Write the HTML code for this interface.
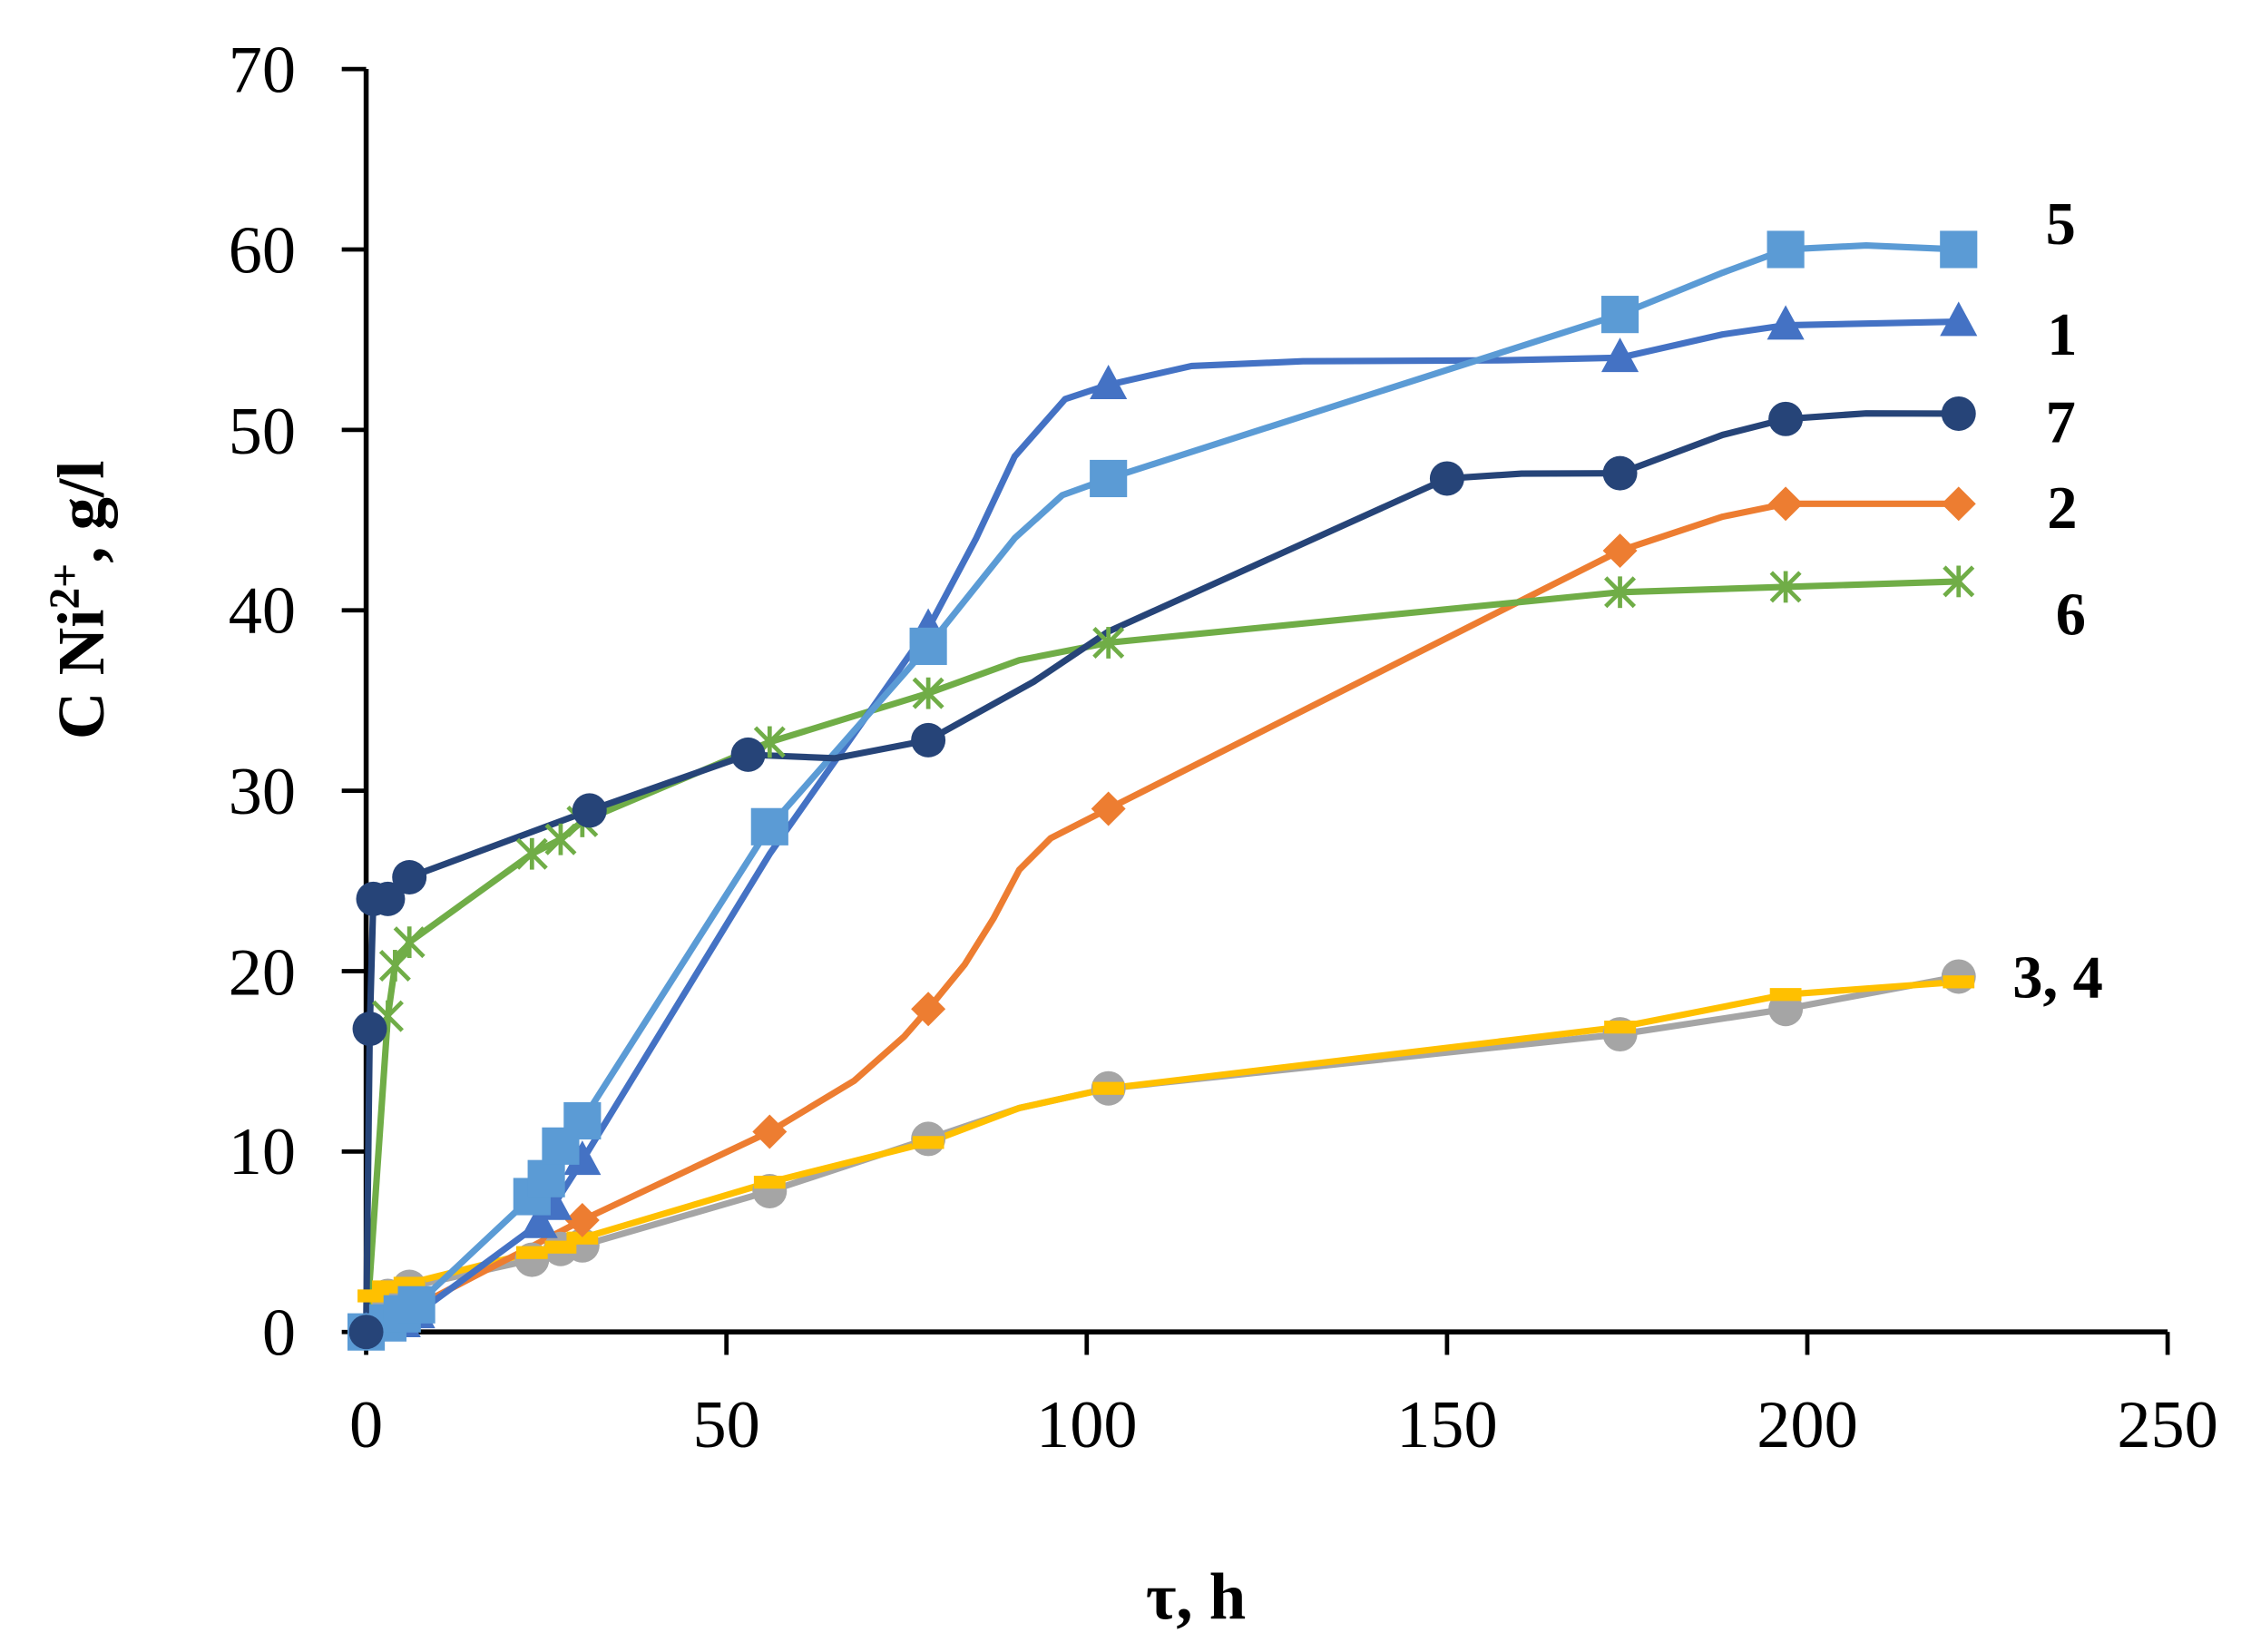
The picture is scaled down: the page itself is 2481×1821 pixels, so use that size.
<!DOCTYPE html>
<html><head><meta charset="utf-8"><style>html,body{margin:0;padding:0;background:#fff}svg{display:block}</style></head>
<body>
<svg width="2481" height="1821" viewBox="0 0 1568 1151" xmlns="http://www.w3.org/2000/svg" xmlns:xlink="http://www.w3.org/1999/xlink" font-family="'Liberation Serif', serif">
<defs>
<circle id="cg" r="12" fill="#A5A5A5"/>
<circle id="cn" r="12" fill="#264478"/>
<rect id="dy" x="-11" y="-4.5" width="22" height="9" fill="#FFC000"/>
<polygon id="dm" points="0,-12 12,0 0,12 -12,0" fill="#ED7D31"/>
<g id="st" stroke="#70AD47" stroke-width="3"><line x1="-10" y1="-10" x2="10" y2="10"/><line x1="-10" y1="10" x2="10" y2="-10"/><line x1="0" y1="-11" x2="0" y2="11"/></g>
<polygon id="tr" points="0,-14 13,10 -13,10" fill="#4472C4"/>
<rect id="sq" x="-13" y="-13" width="26" height="26" fill="#5B9BD5"/>
</defs>
<rect width="1568" height="1151" fill="#fff"/>
<g stroke="#000" stroke-width="3.5" fill="none">
<line x1="255" y1="48" x2="255" y2="929"/>
<line x1="254" y1="928" x2="1510" y2="928"/>
</g>
<g stroke="#000" stroke-width="3">
<line x1="238" y1="928" x2="255" y2="928"/><line x1="238" y1="802.3" x2="255" y2="802.3"/><line x1="238" y1="676.6" x2="255" y2="676.6"/><line x1="238" y1="550.9" x2="255" y2="550.9"/><line x1="238" y1="425.2" x2="255" y2="425.2"/><line x1="238" y1="299.5" x2="255" y2="299.5"/><line x1="238" y1="173.8" x2="255" y2="173.8"/><line x1="238" y1="48.1" x2="255" y2="48.1"/>
<line x1="255" y1="928" x2="255" y2="944"/><line x1="506" y1="928" x2="506" y2="944"/><line x1="757" y1="928" x2="757" y2="944"/><line x1="1008" y1="928" x2="1008" y2="944"/><line x1="1259" y1="928" x2="1259" y2="944"/><line x1="1510" y1="928" x2="1510" y2="944"/>
</g>
<g font-size="47" fill="#000" text-anchor="end">
<text x="206" y="944">0</text><text x="206" y="818">10</text><text x="206" y="693">20</text><text x="206" y="567">30</text><text x="206" y="441">40</text><text x="206" y="316">50</text><text x="206" y="190">60</text><text x="206" y="64">70</text>
</g>
<g font-size="47" fill="#000" text-anchor="middle">
<text x="255" y="1008">0</text><text x="506" y="1008">50</text><text x="757" y="1008">100</text><text x="1008" y="1008">150</text><text x="1259" y="1008">200</text><text x="1510" y="1008">250</text>
</g>
<g fill="none" stroke-width="4.5" stroke-linejoin="round" stroke-linecap="round">
<polyline stroke="#A5A5A5" points="255,928 270.1,902.9 285.1,896.6 370.5,877.7 390.5,870.2 405.6,867.7 536.1,829.9 646.6,793.5 710,772 772.1,758.3 1128.5,720.6 1243.9,703 1364.4,680.4"/>
<polyline stroke="#FFC000" points="255,928 260,902.9 270.1,896.6 285.1,894.1 370.5,872.7 390.5,868.9 405.6,862.6 536.1,823.7 646.6,796 710,772 772.1,758.3 1128.5,715.6 1243.9,692.9 1364.4,684.1"/>
<polyline stroke="#ED7D31" points="255,928 280.1,915.4 405.6,850.1 536.1,788.5 595,753 630,722 646.6,703 672,672 692,640 710,606 731.9,584 772.1,563.5 1128.5,383.7 1200,360 1243.9,351 1364.4,351"/>
<polyline stroke="#70AD47" points="255,928 270.1,708 275.1,672.8 285.1,656.5 370.5,594.9 390.5,584.8 405.6,572.3 536.1,517 646.6,483 710,460 772.1,447.8 1128.5,412.6 1243.9,408.9 1364.4,405.1"/>
<polyline stroke="#4472C4" points="255,928 280.1,921.7 290.1,915.4 375.5,852.6 385.5,840 405.6,808.6 536.1,595 646.6,437.8 680,375 706.8,318 742,278 772.1,268.1 830,255 907.6,251.7 1050,251 1128.5,249.2 1200,233 1243.9,226.6 1364.4,224.1"/>
<polyline stroke="#5B9BD5" points="255,928 270.1,921.7 280.1,915.4 290.1,909.1 370.5,833.7 380.5,821.2 390.5,798.5 405.6,780.9 536.1,576 646.6,450.3 706.8,375 740,345 772.1,333.4 1128.5,219.1 1200,190 1243.9,173.8 1300,171 1364.4,173.8"/>
<polyline stroke="#264478" points="255,928 257.5,716.8 260,626.3 270.1,626.3 285.1,611.2 410.6,564.7 521.1,525.8 581.3,528.3 646.6,515.7 720,475 772.1,440 1008,333.4 1060,330 1128.5,329.7 1200,303 1243.9,291.9 1300,288 1364.4,288.2"/>
</g>
<g>
<use xlink:href="#cg" x="255" y="928"/><use xlink:href="#cg" x="270.1" y="902.9"/><use xlink:href="#cg" x="285.1" y="896.6"/><use xlink:href="#cg" x="370.5" y="877.7"/><use xlink:href="#cg" x="390.5" y="870.2"/><use xlink:href="#cg" x="405.6" y="867.7"/><use xlink:href="#cg" x="536.1" y="829.9"/><use xlink:href="#cg" x="646.6" y="793.5"/><use xlink:href="#cg" x="772.1" y="758.3"/><use xlink:href="#cg" x="1128.5" y="720.6"/><use xlink:href="#cg" x="1243.9" y="703"/><use xlink:href="#cg" x="1364.4" y="680.4"/>
<use xlink:href="#dy" x="255" y="928"/><use xlink:href="#dy" x="260" y="902.9"/><use xlink:href="#dy" x="270.1" y="896.6"/><use xlink:href="#dy" x="285.1" y="894.1"/><use xlink:href="#dy" x="370.5" y="872.7"/><use xlink:href="#dy" x="390.5" y="868.9"/><use xlink:href="#dy" x="405.6" y="862.6"/><use xlink:href="#dy" x="536.1" y="823.7"/><use xlink:href="#dy" x="646.6" y="796"/><use xlink:href="#dy" x="772.1" y="758.3"/><use xlink:href="#dy" x="1128.5" y="715.6"/><use xlink:href="#dy" x="1243.9" y="692.9"/><use xlink:href="#dy" x="1364.4" y="684.1"/>
<use xlink:href="#dm" x="255" y="928"/><use xlink:href="#dm" x="280.1" y="915.4"/><use xlink:href="#dm" x="405.6" y="850.1"/><use xlink:href="#dm" x="536.1" y="788.5"/><use xlink:href="#dm" x="646.6" y="703"/><use xlink:href="#dm" x="772.1" y="563.5"/><use xlink:href="#dm" x="1128.5" y="383.7"/><use xlink:href="#dm" x="1243.9" y="351"/><use xlink:href="#dm" x="1364.4" y="351"/>
<use xlink:href="#st" x="255" y="928"/><use xlink:href="#st" x="270.1" y="708"/><use xlink:href="#st" x="275.1" y="672.8"/><use xlink:href="#st" x="285.1" y="656.5"/><use xlink:href="#st" x="370.5" y="594.9"/><use xlink:href="#st" x="390.5" y="584.8"/><use xlink:href="#st" x="405.6" y="572.3"/><use xlink:href="#st" x="536.1" y="517"/><use xlink:href="#st" x="646.6" y="483"/><use xlink:href="#st" x="772.1" y="447.8"/><use xlink:href="#st" x="1128.5" y="412.6"/><use xlink:href="#st" x="1243.9" y="408.9"/><use xlink:href="#st" x="1364.4" y="405.1"/>
<use xlink:href="#tr" x="255" y="928"/><use xlink:href="#tr" x="280.1" y="921.7"/><use xlink:href="#tr" x="290.1" y="915.4"/><use xlink:href="#tr" x="375.5" y="852.6"/><use xlink:href="#tr" x="385.5" y="840"/><use xlink:href="#tr" x="405.6" y="808.6"/><use xlink:href="#tr" x="646.6" y="437.8"/><use xlink:href="#tr" x="772.1" y="268.1"/><use xlink:href="#tr" x="1128.5" y="249.2"/><use xlink:href="#tr" x="1243.9" y="226.6"/><use xlink:href="#tr" x="1364.4" y="224.1"/>
<use xlink:href="#sq" x="255" y="928"/><use xlink:href="#sq" x="270.1" y="921.7"/><use xlink:href="#sq" x="280.1" y="915.4"/><use xlink:href="#sq" x="290.1" y="909.1"/><use xlink:href="#sq" x="370.5" y="833.7"/><use xlink:href="#sq" x="380.5" y="821.2"/><use xlink:href="#sq" x="390.5" y="798.5"/><use xlink:href="#sq" x="405.6" y="780.9"/><use xlink:href="#sq" x="536.1" y="576"/><use xlink:href="#sq" x="646.6" y="450.3"/><use xlink:href="#sq" x="772.1" y="333.4"/><use xlink:href="#sq" x="1128.5" y="219.1"/><use xlink:href="#sq" x="1243.9" y="173.8"/><use xlink:href="#sq" x="1364.4" y="173.8"/>
<use xlink:href="#cn" x="255" y="928"/><use xlink:href="#cn" x="257.5" y="716.8"/><use xlink:href="#cn" x="260" y="626.3"/><use xlink:href="#cn" x="270.1" y="626.3"/><use xlink:href="#cn" x="285.1" y="611.2"/><use xlink:href="#cn" x="410.6" y="564.7"/><use xlink:href="#cn" x="521.1" y="525.8"/><use xlink:href="#cn" x="646.6" y="515.7"/><use xlink:href="#cn" x="1008" y="333.4"/><use xlink:href="#cn" x="1128.5" y="329.7"/><use xlink:href="#cn" x="1243.9" y="291.9"/><use xlink:href="#cn" x="1364.4" y="288.2"/>
</g>
<g font-weight="bold" font-size="42" fill="#000">
<text x="1425" y="170">5</text>
<text x="1426" y="247">1</text>
<text x="1425" y="308">7</text>
<text x="1426" y="368">2</text>
<text x="1432" y="442">6</text>
<text x="1402" y="695">3, 4</text>
</g>
<text x="833" y="1128" font-weight="bold" font-size="46" text-anchor="middle">τ, h</text>
<text transform="translate(72,418) rotate(-90)" font-weight="bold" font-size="46" text-anchor="middle">C Ni<tspan font-size="30" dy="-17">2+</tspan><tspan dy="17">, g/l</tspan></text>
</svg>
</body></html>
